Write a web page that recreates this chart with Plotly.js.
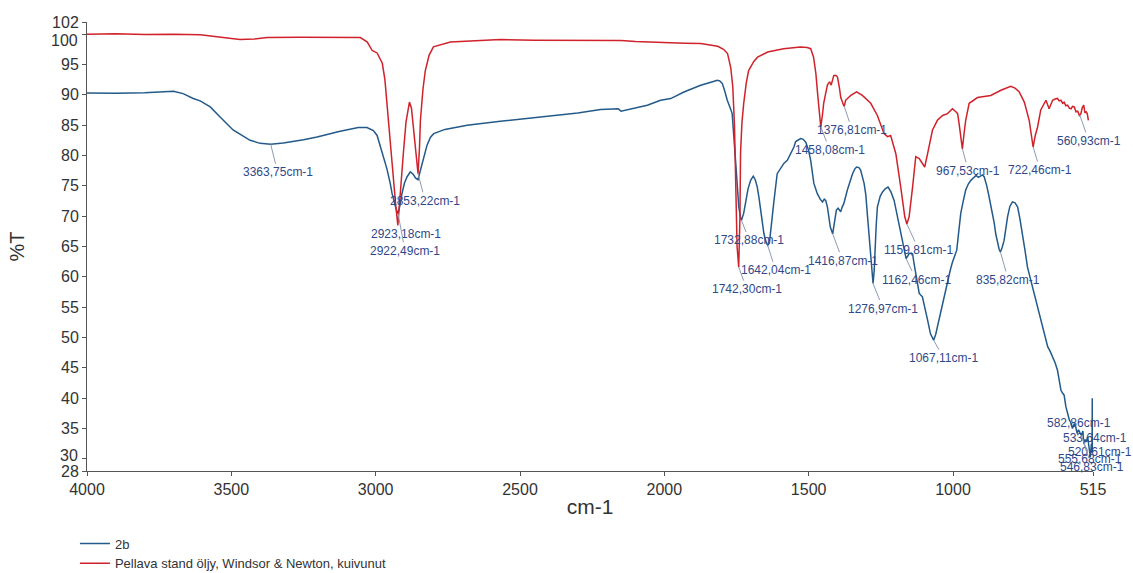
<!DOCTYPE html>
<html>
<head>
<meta charset="utf-8">
<script src="https://cdn.plot.ly/plotly-3.0.1.min.js"></script>
<style>html,body{margin:0;padding:0;background:#fff;}#chart{width:1133px;height:573px;}</style>
</head>
<body>
<div id="chart"></div>
<script>
// ---- Data ----
var redName = 'Pellava stand öljy, Windsor & Newton, kuivunut';
var blueName = '2b';

var redWn = [4000, 3900, 3800, 3700, 3608, 3540, 3470, 3420, 3376, 3261, 3150, 3053, 3029, 3012, 2995, 2977, 2968, 2960, 2950, 2942, 2930, 2923.18, 2915, 2904, 2895, 2883, 2876, 2869, 2860, 2853.22, 2848, 2845, 2836, 2828, 2815, 2800, 2741, 2650, 2568, 2450, 2330, 2221, 2150, 2100, 2050, 1989, 1930, 1874, 1815, 1795, 1781, 1770, 1763, 1757, 1753, 1748, 1742.30, 1738, 1736, 1731, 1725, 1716, 1708, 1690, 1677, 1642, 1587, 1560, 1528, 1505, 1493, 1483, 1475, 1469, 1463, 1458.08, 1452, 1448, 1440, 1435, 1430, 1427, 1422, 1413, 1405, 1400, 1393, 1389, 1380, 1376.81, 1372, 1354, 1334, 1314, 1285, 1262, 1239, 1227, 1216, 1198, 1181, 1167, 1159.81, 1152, 1140, 1129, 1117, 1106, 1098, 1088, 1071, 1054, 1036, 1019, 1002, 990, 984, 979, 973, 967.53, 962, 956, 944, 915, 869, 834, 800, 785, 771, 753, 736, 728, 722.46, 715, 707, 696, 678, 667, 655, 646, 638, 632, 626, 620, 615, 609, 603, 597, 591, 586, 580, 574, 568, 562, 557, 552, 547, 543, 539, 535, 531];
var redT = [99.97, 100.05, 99.95, 100.0, 99.9, 99.55, 99.1, 99.2, 99.43, 99.5, 99.45, 99.43, 98.7, 97.3, 96.9, 95.2, 92.5, 88.0, 83.0, 77.6, 71.5, 68.5, 73.0, 80.4, 85.5, 88.8, 87.8, 84.2, 79.5, 77.0, 81.5, 85.8, 91.0, 94.0, 96.5, 97.9, 98.7, 98.9, 99.1, 99.0, 98.95, 98.87, 98.95, 98.8, 98.7, 98.54, 98.5, 98.44, 98.0, 97.5, 96.8, 94.5, 91.4, 85.0, 74.8, 65.0, 61.6, 70.0, 80.4, 85.5, 88.6, 92.0, 94.0, 95.5, 96.2, 97.06, 97.6, 97.75, 97.9, 97.8, 97.6, 96.2, 93.5, 90.2, 86.5, 84.7, 86.8, 88.6, 90.5, 91.6, 92.0, 92.1, 91.6, 93.2, 93.2, 92.9, 91.0, 89.6, 88.4, 88.1, 89.1, 89.9, 90.5, 89.9, 88.6, 86.6, 83.6, 83.1, 83.3, 80.3, 74.8, 69.9, 68.7, 69.9, 74.8, 79.8, 79.5, 78.7, 78.1, 80.3, 84.2, 85.8, 86.6, 86.9, 87.7, 87.2, 86.9, 85.3, 83.5, 81.1, 83.5, 85.8, 88.6, 89.55, 89.9, 90.75, 91.4, 91.1, 90.5, 88.8, 85.8, 83.5, 81.4, 83.3, 84.7, 87.5, 89.1, 87.7, 89.1, 89.3, 89.4, 89.0, 89.1, 88.6, 88.8, 88.2, 88.3, 87.8, 87.7, 88.1, 88.0, 87.2, 87.3, 86.6, 86.9, 87.9, 88.3, 87.0, 87.2, 86.9, 85.8];

var blueWn = [4000, 3900, 3800, 3750, 3700, 3667, 3632, 3608, 3573, 3539, 3494, 3435, 3400, 3363.75, 3320, 3250, 3203, 3123, 3060, 3030, 3008, 2995, 2984, 2970, 2961, 2950, 2943, 2930, 2922.49, 2915, 2909, 2900, 2891, 2880, 2870, 2862, 2853.22, 2847, 2839, 2830, 2822, 2810, 2799, 2760, 2683, 2568, 2400, 2300, 2221, 2175, 2160, 2150, 2100, 2059, 2013, 1978, 1932, 1874, 1830, 1817, 1808, 1799, 1790, 1782, 1773, 1765, 1755, 1748, 1742, 1736, 1732.88, 1725, 1718, 1710, 1701, 1692, 1685, 1678, 1672, 1666, 1660, 1655, 1648, 1642.04, 1636, 1630, 1620, 1609, 1597, 1586, 1574, 1562, 1551, 1545, 1535, 1528, 1520, 1510, 1500, 1493, 1482, 1470, 1460, 1452, 1446, 1441, 1435, 1430, 1425, 1416.87, 1410, 1404, 1398, 1393, 1389, 1384, 1378, 1366, 1356, 1348, 1340, 1334, 1326, 1320, 1308, 1302, 1296, 1290, 1285, 1281, 1276.97, 1273, 1271, 1266, 1262, 1252, 1244, 1235, 1225, 1215, 1204, 1195, 1187, 1180, 1172, 1167, 1162.46, 1157, 1152, 1146, 1140, 1135, 1129, 1123, 1117, 1106, 1097, 1088, 1078, 1067.11, 1060, 1054, 1045, 1036, 1028, 1019, 1010, 1002, 994, 987, 980, 973, 964, 956, 947, 938, 927, 920, 912, 905, 898, 892, 883, 875, 869, 863, 857, 852, 845, 840, 835.82, 830, 823, 817, 811, 803, 794, 785, 776, 768, 759, 750, 742, 730, 719, 707, 696, 684, 672, 664, 655, 646, 638, 632, 626, 620, 615, 609, 603, 597, 592, 586, 580, 575, 570, 565, 560, 555.68, 550, 546.83, 542, 538, 533.64, 530, 527, 524, 520.61, 518.5, 517.5, 516.8, 516, 515.5, 515];
var blueT = [90.3, 90.25, 90.35, 90.5, 90.6, 90.2, 89.4, 89.0, 88.0, 86.35, 84.2, 82.5, 82.0, 81.85, 82.05, 82.6, 83.05, 83.99, 84.6, 84.6, 84.1, 83.3, 81.5, 79.0, 77.8, 75.5, 73.7, 71.3, 70.4, 72.0, 73.7, 75.5, 76.5, 77.3, 76.9, 76.3, 76.0, 77.2, 78.7, 80.7, 81.7, 83.0, 83.6, 84.3, 84.98, 85.64, 86.5, 87.0, 87.57, 87.73, 87.7, 87.3, 87.9, 88.28, 89.1, 89.38, 90.47, 91.57, 92.2, 92.4, 92.3, 91.85, 90.5, 89.1, 88.0, 86.9, 80.3, 75.0, 71.5, 69.8, 69.3, 70.5, 72.6, 74.5, 75.9, 76.6, 76.0, 74.8, 73.0, 71.0, 68.8, 67.1, 65.8, 65.2, 65.6, 68.5, 72.6, 77.0, 78.0, 78.7, 79.2, 80.3, 81.4, 82.3, 82.6, 82.8, 82.7, 82.2, 80.8, 79.2, 75.4, 73.7, 72.8, 72.35, 72.8, 72.6, 71.5, 69.9, 68.2, 67.1, 69.5, 71.0, 71.3, 70.9, 70.7, 71.5, 72.1, 74.3, 76.0, 77.0, 77.8, 78.1, 78.0, 77.6, 75.4, 73.5, 69.9, 66.5, 62.7, 60.5, 58.9, 61.0, 63.85, 68.5, 71.5, 73.3, 74.0, 74.5, 74.8, 74.0, 72.6, 70.5, 68.2, 66.5, 64.9, 63.6, 63.0, 63.4, 63.85, 63.9, 63.8, 62.2, 60.55, 58.8, 57.26, 56.7, 55.0, 52.86, 50.6, 49.56, 50.5, 51.75, 53.7, 55.6, 57.5, 59.45, 61.0, 62.4, 63.5, 64.4, 67.5, 70.5, 72.6, 74.3, 75.3, 75.9, 76.4, 76.7, 76.4, 76.6, 76.8, 76.5, 75.0, 73.2, 71.8, 70.4, 68.8, 67.1, 65.5, 64.5, 64.1, 64.8, 66.0, 68.0, 69.9, 71.6, 72.35, 72.2, 71.5, 69.5, 67.1, 64.2, 61.6, 59.3, 57.3, 55.0, 52.9, 50.5, 48.5, 47.8, 46.8, 45.8, 44.6, 43.0, 41.3, 40.8, 40.5, 38.6, 37.2, 36.4, 36.0, 35.0, 35.8, 35.3, 34.2, 34.8, 34.3, 33.9, 34.6, 32.5, 33.2, 32.8, 33.6, 32.0, 31.2, 30.3, 32.5, 31.0, 40.0, 31.5, 39.6, 31.0, 31.5];

// Peak labels
var peakLabels = ['3363,75cm-1', '2923,18cm-1', '2922,49cm-1', '2853,22cm-1', '1742,30cm-1', '1732,88cm-1', '1642,04cm-1', '1458,08cm-1', '1416,87cm-1', '1376,81cm-1', '1276,97cm-1', '1162,46cm-1', '1159,81cm-1', '1067,11cm-1', '967,53cm-1', '835,82cm-1', '722,46cm-1', '560,93cm-1', '582,86cm-1', '533,64cm-1', '520,61cm-1', '555,68cm-1', '546,83cm-1'];
var peakWn = [3363.75, 2923.18, 2922.49, 2853.22, 1742.30, 1732.88, 1642.04, 1458.08, 1416.87, 1376.81, 1276.97, 1162.46, 1159.81, 1067.11, 967.53, 835.82, 722.46, 560.93, 582.86, 533.64, 520.61, 555.68, 546.83];
var peakT = [81.85, 68.5, 70.4, 77.0, 61.6, 69.3, 65.2, 84.7, 67.1, 88.1, 58.9, 63.0, 68.7, 49.56, 81.1, 64.1, 81.4, 86.7, 35.5, 33.6, 32.5, 33.9, 32.5];

var xTicks = [4000, 3500, 3000, 2500, 2000, 1500, 1000, 515];
var yTicks = [28, 30, 35, 40, 45, 50, 55, 60, 65, 70, 75, 80, 85, 90, 95, 100, 102];
// tick labels that the reference draws nudged away from their crowded neighbours
var yShiftedTicks = [100, 30];

// ---- Label offsets (style, px) ----
var labelAx = [7, 8, 7, 7, 8, 8, 8, 9, 10, 8, 10, 10, 12, 10, 6, 8, 7, 9, 6, 7, 9, 9, 8];
var labelAy = [28, 9, 37, 27, 22, 20, 25, 23, 27, 24, 25, 21, 26, 18, 22, 28, 23, 26, -2, 1, 8, 24, 23];
var yShiftPx = [-6, 3];

var blueColor = '#235a8a';
var redColor = '#d0222b';
var fontFam = 'Liberation Sans, Arial, sans-serif';

var traces = [
  {x: blueWn, y: blueT, type: 'scatter', mode: 'lines', name: blueName,
   line: {color: blueColor, width: 1.5}},
  {x: redWn, y: redT, type: 'scatter', mode: 'lines', name: redName,
   line: {color: redColor, width: 1.5}}
];

var annotations = peakLabels.map(function (t, i) {
  return {
    x: peakWn[i], y: peakT[i], xref: 'x', yref: 'y', text: t,
    showarrow: true, arrowhead: 0, arrowwidth: 1, arrowcolor: '#8d9bb0',
    ax: labelAx[i], ay: labelAy[i], standoff: 0,
    font: {family: fontFam, size: 12, color: '#2f4889'}
  };
});
yShiftedTicks.forEach(function (v, i) {
  annotations.push({
    x: 0, xref: 'paper', xanchor: 'right', xshift: -7,
    y: v, yref: 'y', yanchor: 'middle', yshift: yShiftPx[i],
    text: String(v), showarrow: false,
    font: {family: fontFam, size: 16, color: '#333'}
  });
});

var layout = {
  width: 1133, height: 573,
  margin: {l: 87, r: 40, t: 22, b: 102, autoexpand: false},
  paper_bgcolor: '#ffffff', plot_bgcolor: '#ffffff',
  font: {family: fontFam, color: '#333333'},
  xaxis: {
    range: [4000, 515], autorange: false,
    tickvals: xTicks, ticktext: xTicks.map(String),
    ticks: 'outside', ticklen: 4, tickcolor: '#555',
    showline: true, linecolor: '#555', linewidth: 1,
    showgrid: false, zeroline: false,
    tickfont: {size: 16, color: '#333'},
    title: {text: 'cm-1', font: {size: 21, color: '#333'}, standoff: 2}
  },
  yaxis: {
    range: [28, 102], autorange: false,
    tickvals: yTicks,
    ticktext: yTicks.map(function (v) { return yShiftedTicks.indexOf(v) >= 0 ? '' : String(v); }),
    ticks: 'outside', ticklen: 4, tickcolor: '#555',
    showline: true, linecolor: '#555', linewidth: 1,
    showgrid: false, zeroline: false,
    tickfont: {size: 16, color: '#333'},
    title: {text: '%T', font: {size: 20, color: '#333'}, standoff: 22}
  },
  showlegend: true,
  legend: {
    x: -0.012, xanchor: 'left', y: -0.128, yanchor: 'top',
    bgcolor: 'rgba(0,0,0,0)', borderwidth: 0,
    font: {size: 13, color: '#333'}, tracegroupgap: 0
  },
  annotations: annotations
};

Plotly.newPlot('chart', traces, layout, {displayModeBar: false, staticPlot: true});
</script>
</body>
</html>
